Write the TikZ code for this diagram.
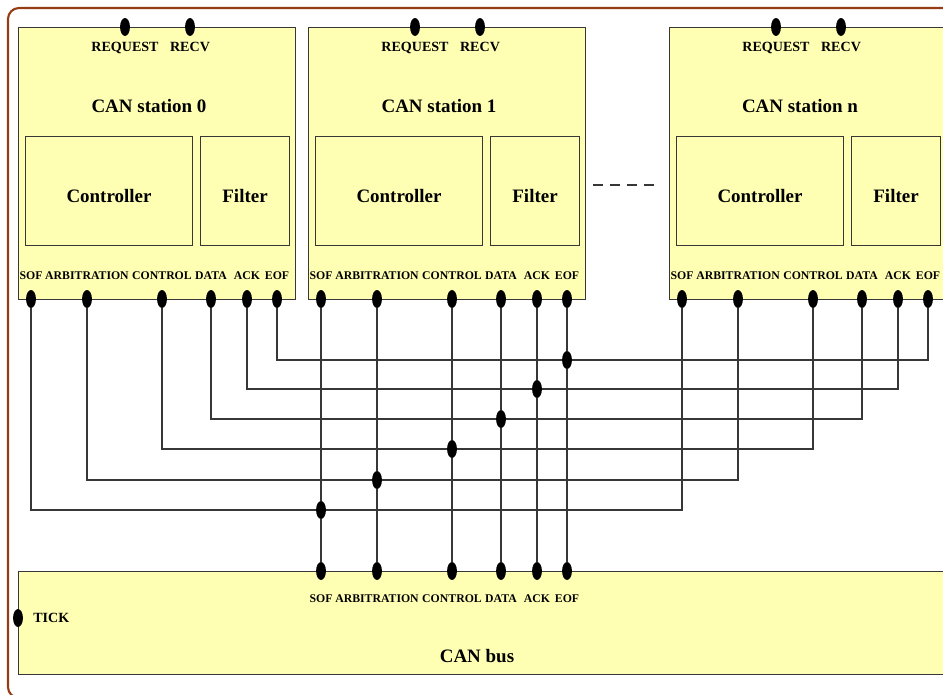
\documentclass[tikz,border=0pt]{standalone}
\usepackage{fontspec}
\setmainfont{Liberation Serif}
\usetikzlibrary{positioning,shapes.geometric}
\definecolor{framecol}{RGB}{150,60,20}
\definecolor{boxcol}{RGB}{255,255,180}
\definecolor{wirecol}{RGB}{55,55,55}

\begin{document}
\begin{tikzpicture}[
   x=0.02cm, y=-0.02cm,
   station/.style={draw=wirecol, fill=boxcol, anchor=north west, line width=0.6pt,
                   minimum width=5.54cm, minimum height=5.44cm, inner sep=0pt},
   block/.style={draw=wirecol, fill=boxcol, line width=0.6pt, minimum height=2.18cm,
                 inner sep=0pt, text height=12.9pt, text depth=0pt,
                 font=\fontsize{10.8}{13}\selectfont\bfseries},
   heading/.style={font=\fontsize{10.8}{13}\selectfont\bfseries, inner sep=1pt},
   port/.style={ellipse, fill=black, minimum width=5.6pt, minimum height=10.2pt, inner sep=0pt},
   plab/.style={font=\fontsize{6.7}{8}\selectfont\bfseries, inner sep=1pt},
   tlab/.style={font=\fontsize{8}{9.6}\selectfont\bfseries, inner sep=1pt},
   wire/.style={draw=wirecol, line width=0.6pt},
]
\useasboundingbox (0,0) rectangle (943,695);
% frame
\draw[framecol, line width=1.2pt, rounded corners=0.22cm] (8,8) rectangle (1100,698);
% stations
\foreach \s/\x in {0/18, 1/308, n/669} {
  \node[station] (st\s) at (\x,27) {};
  \node[heading] (tt\s) at (\x+131,106) {CAN station \s};
  \node[block, minimum width=3.34cm, anchor=north west] (ctl\s) at (\x+7,136) {Controller};
  \node[block, minimum width=1.78cm, right=0.14cm of ctl\s] (flt\s) {Filter};
  \node[port, label={[tlab, label distance=2pt]below:REQUEST}] (s\s-req) at (\x+107,27) {};
  \node[port, label={[tlab, label distance=2pt]below:RECV}] (s\s-recv) at (\x+172,27) {};
  \foreach \p/\dx/\t in {sof/13/SOF, arb/69/ARBITRATION, ctl/144/CONTROL,
                         data/193/DATA, ack/229/ACK, eof/259/EOF}
    \node[port, label={[plab, label distance=4.5pt]above:\t}] (s\s-\p) at (\x+\dx,299) {};
}
\draw[wire, dash pattern=on 5.7pt off 4pt] (593,185) -- (655,185);
% bus
\node[station, minimum width=18.54cm, minimum height=2.06cm] (bus) at (18,571) {};
\node[heading] (bust) at (477,656) {CAN bus};
\node[port, label={[tlab, label distance=4.5pt]right:TICK}] (tick) at (18,618) {};
\foreach \p/\dx/\t in {sof/13/SOF, arb/69/ARBITRATION, ctl/144/CONTROL,
                       data/193/DATA, ack/229/ACK, eof/259/EOF}
  \node[port, label={[plab, label distance=6.8pt]below:\t}] (bus-\p) at (308+\dx,571) {};
% junctions
\foreach \p/\dx/\y in {sof/13/510, arb/69/480, ctl/144/449, data/193/419, ack/229/389, eof/259/360}
  \node[port] (j-\p) at (308+\dx,\y) {};
% wires
\foreach \p in {sof,arb,ctl,data,ack,eof} {
  \draw[wire] (s0-\p) |- (j-\p) -| (sn-\p);
  \draw[wire] (s1-\p) -- (j-\p) -- (bus-\p);
}
\end{tikzpicture}
\end{document}
